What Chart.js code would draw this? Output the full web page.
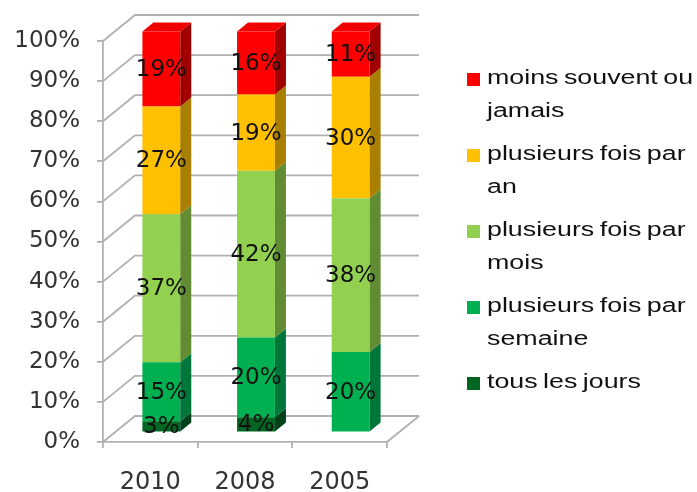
<!DOCTYPE html>
<html>
<head>
<meta charset="utf-8">
<script src="https://cdn.jsdelivr.net/npm/chart.js@4.4.1/dist/chart.umd.min.js"></script>
<style>
  html, body { margin: 0; padding: 0; background: #fff; }
  #wrap { position: relative; width: 697px; height: 492px; }
  #legend { position: absolute; left: 0; top: 0; }
  .item { position: absolute; left: 467px; }
  .swatch { position: absolute; left: 0; width: 13px; height: 13px; }
  .txt {
    position: absolute; left: 20px; top: 0; width: 156px;
    font: 20px "Liberation Sans", Arial, sans-serif; line-height: 33px;
    word-spacing: -1.5px; color: #111;
    transform: scaleX(1.34); transform-origin: left top;
  }
</style>
</head>
<body>
<div id="wrap">
  <canvas id="chart"></canvas>
  <div id="legend"></div>
</div>
<script>
// Fréquence par année, stacked to 100%.
// labels on the bars are the rounded figures.
const YEARS = ['2010', '2008', '2005'];

const TOUS_LES_JOURS = [2.8, 3.8, 0];
const PAR_SEMAINE = [14.7, 19.9, 20.1];
const PAR_MOIS = [36.9, 41.6, 38.3];
const PAR_AN = [26.9, 19.0, 30.3];
const MOINS_SOUVENT = [18.7, 15.7, 11.3];

const SERIES_NAMES = [
  'tous les jours',
  'plusieurs fois par semaine',
  'plusieurs fois par mois',
  'plusieurs fois par an',
  'moins souvent ou jamais',
];
const SERIES_VALUES = [TOUS_LES_JOURS, PAR_SEMAINE, PAR_MOIS, PAR_AN, MOINS_SOUVENT];

// front / side / top face colours
const FRONT = ['#006622', '#00b050', '#92d050', '#ffc000', '#ff0000'];
const SIDE = ['#00401a', '#00773a', '#628c33', '#a87f00', '#a00000'];
const TOP = ['#007a2a', '#10c060', '#a0dc60', '#ffcc20', '#f00000'];

// ---------- 3D look ----------
const WALL_DX = 32, WALL_DY = -26;     // depth of the back wall
const SHIFT_DX = 11, SHIFT_DY = -9.5;  // bars sit a third of the way in
const BAR_DX = 11, BAR_DY = -9;        // depth of each bar
const GRID = '#b0b0b0';

const walls = {
  id: 'walls',
  beforeDatasetsDraw(chart) {
    const { ctx, chartArea: a, scales: { y } } = chart;
    ctx.save();
    ctx.strokeStyle = GRID;
    ctx.lineWidth = 1.8;
    for (const t of y.ticks) {
      const py = y.getPixelForValue(t.value);
      ctx.beginPath();
      ctx.moveTo(a.left, py);
      ctx.lineTo(a.left + WALL_DX, py + WALL_DY);
      ctx.lineTo(a.right + WALL_DX, py + WALL_DY);
      ctx.stroke();
    }
    // right edge of the floor
    ctx.beginPath();
    ctx.moveTo(a.right, a.bottom);
    ctx.lineTo(a.right + WALL_DX, a.bottom + WALL_DY);
    ctx.stroke();
    ctx.restore();

    // bars are drawn pushed back into the box
    ctx.save();
    ctx.translate(SHIFT_DX, SHIFT_DY);
  },
  afterDatasetsDraw(chart) {
    const { ctx } = chart;
    const last = chart.data.datasets.length - 1;
    chart.data.datasets.forEach((ds, i) => {
      chart.getDatasetMeta(i).data.forEach((bar, j) => {
        if (!ds.data[j]) return;
        const r = bar.x + bar.width / 2, l = bar.x - bar.width / 2;
        ctx.fillStyle = SIDE[i];
        ctx.beginPath();
        ctx.moveTo(r, bar.y);
        ctx.lineTo(r + BAR_DX, bar.y + BAR_DY);
        ctx.lineTo(r + BAR_DX, bar.base + BAR_DY);
        ctx.lineTo(r, bar.base);
        ctx.closePath();
        ctx.fill();
        if (i === last) {
          ctx.fillStyle = TOP[i];
          ctx.beginPath();
          ctx.moveTo(l, bar.y);
          ctx.lineTo(l + BAR_DX, bar.y + BAR_DY);
          ctx.lineTo(r + BAR_DX, bar.y + BAR_DY);
          ctx.lineTo(r, bar.y);
          ctx.closePath();
          ctx.fill();
        }
      });
    });

    // percentage on each segment
    ctx.font = '23px "DejaVu Sans", sans-serif';
    ctx.fillStyle = '#111';
    ctx.textAlign = 'center';
    ctx.textBaseline = 'middle';
    chart.data.datasets.forEach((ds, i) => {
      chart.getDatasetMeta(i).data.forEach((bar, j) => {
        const v = ds.data[j];
        if (!v) return;
        ctx.fillText(Math.round(v) + '%', bar.x, (bar.y + bar.base) / 2 + 1);
      });
    });
    ctx.restore();
  },
};

new Chart(document.getElementById('chart'), {
  type: 'bar',
  data: {
    labels: YEARS,
    datasets: SERIES_VALUES.map((values, i) => ({
      label: SERIES_NAMES[i],
      data: values,
      backgroundColor: FRONT[i],
      borderWidth: 0,
      barPercentage: 0.4,
      categoryPercentage: 1,
      clip: false,
    })),
  },
  options: {
    responsive: true,
    maintainAspectRatio: false,
    animation: false,
    layout: { padding: { top: 41, right: 310, left: 0, bottom: 0 } },
    plugins: { legend: { display: false }, tooltip: { enabled: false } },
    scales: {
      x: {
        stacked: true,
        afterFit: (s) => { s.height = 50; },
        grid: { offset: true, drawOnChartArea: false, tickLength: 6, color: GRID, lineWidth: 1.8 },
        border: { display: true, color: GRID, width: 1.8 },
        ticks: { color: '#333', padding: 20, font: { family: 'DejaVu Sans', size: 24 } },
      },
      y: {
        stacked: true,
        min: 0,
        max: 100,
        afterFit: (s) => { s.width = 103; },
        grid: { drawOnChartArea: false, tickLength: 6, color: GRID, lineWidth: 1.8 },
        border: { display: true, color: GRID, width: 1.8 },
        ticks: {
          stepSize: 10,
          color: '#333',
          padding: 17,
          font: { family: 'DejaVu Sans', size: 23 },
          callback: (v) => v + '%',
        },
      },
    },
  },
  plugins: [walls],
});

// legend on the right, top series first
const legend = document.getElementById('legend');
const ITEM_TOP = 61, ITEM_STEP = 76;
SERIES_NAMES.slice().reverse().forEach((name, k) => {
  const i = SERIES_NAMES.length - 1 - k;
  const item = document.createElement('div');
  item.className = 'item';
  item.style.top = ITEM_TOP + k * ITEM_STEP + 'px';
  const sw = document.createElement('div');
  sw.className = 'swatch';
  sw.style.background = FRONT[i];
  sw.style.top = '12px';
  const txt = document.createElement('div');
  txt.className = 'txt';
  txt.textContent = name;
  item.append(sw, txt);
  legend.append(item);
});
</script>
</body>
</html>
